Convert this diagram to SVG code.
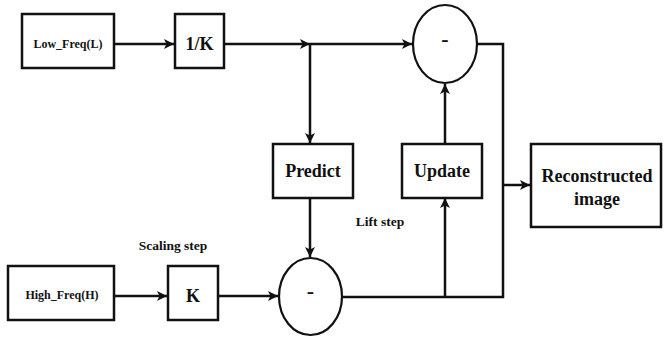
<svg xmlns="http://www.w3.org/2000/svg" width="664" height="338" viewBox="0 0 664 338">
<style>
  .box { fill: #fff; stroke: #111; stroke-width: 2.5; }
  .circ { fill: #fff; stroke: #111; stroke-width: 2.2; }
  .wire { fill: none; stroke: #111; stroke-width: 2.5; }
  text { font-family: "Liberation Serif", "Times New Roman", serif; font-weight: bold; fill: #111; text-anchor: middle; }
  .small { font-size: 12px; }
  .mid { font-size: 18px; }
  .lbl { font-size: 13.5px; }
  .minus { font-size: 22px; }
</style>
<defs>
  <marker id="arr" viewBox="0 0 10 10" refX="10" refY="5" markerWidth="4" markerHeight="4" orient="auto" markerUnits="strokeWidth">
    <path d="M0,0 L10,5 L0,10 L2.5,5 Z" fill="#111"/>
  </marker>
</defs>
<rect width="664" height="338" fill="#fff"/>

<g id="connectors">
  <line class="wire" x1="114" y1="44" x2="174" y2="44" marker-end="url(#arr)"/>
  <line class="wire" x1="224" y1="44" x2="310" y2="44" marker-end="url(#arr)"/>
  <line class="wire" x1="310" y1="44" x2="412" y2="44" marker-end="url(#arr)"/>
  <line class="wire" x1="310" y1="44" x2="310" y2="143" marker-end="url(#arr)"/>
  <line class="wire" x1="310" y1="198" x2="310" y2="257" marker-end="url(#arr)"/>
  <line class="wire" x1="114" y1="296" x2="167" y2="296" marker-end="url(#arr)"/>
  <line class="wire" x1="218" y1="296" x2="278" y2="296" marker-end="url(#arr)"/>
  <polyline class="wire" points="342,297 503,297 503,44 477,44"/>
  <line class="wire" x1="445" y1="297" x2="445" y2="198" marker-end="url(#arr)"/>
  <line class="wire" x1="445" y1="143" x2="445" y2="84" marker-end="url(#arr)"/>
  <line class="wire" x1="503" y1="185" x2="530" y2="185" marker-end="url(#arr)"/>
</g>

<g id="low_freq">
  <rect class="box" x="22" y="14" width="92" height="54"/>
  <text class="small" x="68" y="48">Low_Freq(L)</text>
</g>
<g id="inv_k">
  <rect class="box" x="175" y="14" width="49" height="54"/>
  <text class="mid" x="199.5" y="50">1/K</text>
</g>
<g id="sub_top">
  <ellipse class="circ" cx="445" cy="44" rx="32" ry="39"/>
  <text class="minus" x="445" y="46">-</text>
</g>
<g id="predict">
  <rect class="box" x="273" y="144" width="80" height="54"/>
  <text class="mid" x="313" y="177">Predict</text>
</g>
<g id="update">
  <rect class="box" x="402" y="144" width="80" height="54"/>
  <text class="mid" x="442" y="177">Update</text>
</g>
<g id="reconstructed">
  <rect class="box" x="531" y="144" width="130" height="83"/>
  <text class="mid" x="597" y="182">Reconstructed</text>
  <text class="mid" x="597" y="205">image</text>
</g>
<g id="high_freq">
  <rect class="box" x="8" y="266" width="106" height="54"/>
  <text class="small" x="62" y="299">High_Freq(H)</text>
</g>
<g id="k">
  <rect class="box" x="168" y="266" width="50" height="54"/>
  <text class="mid" x="193" y="302">K</text>
</g>
<g id="sub_bottom">
  <ellipse class="circ" cx="310.5" cy="296.5" rx="31.5" ry="38.5"/>
  <text class="minus" x="310.5" y="298">-</text>
</g>
<g id="labels">
  <text class="lbl" x="173" y="250">Scaling step</text>
  <text class="lbl" x="380" y="226">Lift step</text>
</g>
</svg>
